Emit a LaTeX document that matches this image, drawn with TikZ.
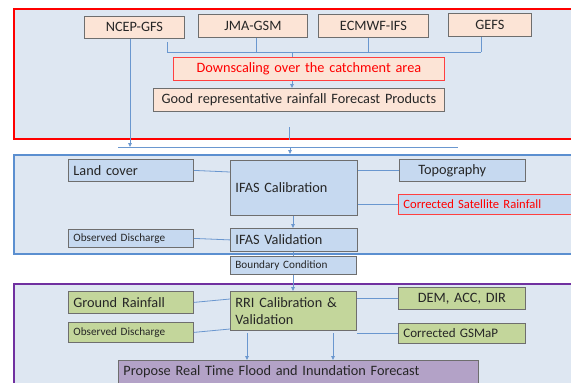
\documentclass[tikz,border=0pt]{standalone}
\usepackage{fontspec}
\setmainfont{Carlito}
\usetikzlibrary{arrows.meta,calc}
\definecolor{framefill}{HTML}{DEE7F2}
\definecolor{peach}{HTML}{FCE4D6}
\definecolor{bluebox}{HTML}{C6D9F0}
\definecolor{greenbox}{HTML}{C3D69B}
\definecolor{purplebox}{HTML}{B3A2C7}
\definecolor{redline}{HTML}{FF0000}
\definecolor{blueframe}{HTML}{5B8FD0}
\definecolor{purpleframe}{HTML}{7030A0}
\definecolor{conn}{HTML}{6A97CF}
\definecolor{boxline}{HTML}{6E6E6E}
\definecolor{txt}{HTML}{262626}
\newcommand{\bigf}{\fontsize{14.3}{17}\selectfont}
\newcommand{\smallf}{\fontsize{11.2}{13}\selectfont}
\tikzset{
  frame/.style={anchor=north west, line width=2pt, fill=framefill, inner sep=0pt},
  bx/.style={draw=boxline, line width=0.8pt, anchor=north west, inner xsep=5pt, inner ysep=0pt, text=txt, font=\bigf, align=left},
  sbx/.style={bx, font=\smallf},
  ln/.style={draw=conn, line width=0.8pt},
  arr/.style={ln, -{Triangle[length=4pt,width=3.5pt]}}
}
\begin{document}
\begin{tikzpicture}[x=1pt,y=-1pt]
\useasboundingbox (0,0) rectangle (571,383);
\clip (0,0) rectangle (571,383);
% frames
\node[frame, draw=redline, minimum width=570pt, minimum height=130pt] (redf) at (13,8) {};
\node[frame, draw=blueframe, minimum width=570pt, minimum height=99pt] (bluef) at (13,154) {};
\node[frame, draw=purpleframe, minimum width=570pt, minimum height=120pt] (purf) at (13,283) {};
% top boxes
\node[bx, fill=peach, minimum width=100pt, minimum height=22pt, text width=90pt, align=center] (ncep) at (84,16) {NCEP-GFS};
\node[bx, fill=peach, minimum width=109pt, minimum height=23pt, text width=99pt, align=center] (jma) at (198,14) {JMA-GSM};
\node[bx, fill=peach, minimum width=110pt, minimum height=23pt, text width=100pt, align=center] (ecmwf) at (318,14) {ECMWF-IFS};
\node[bx, fill=peach, minimum width=83pt, minimum height=23pt, text width=73pt, align=center] (gefs) at (448,13) {GEFS};
\node[bx, fill=peach, draw=redline!75, text=redline, minimum width=271pt, minimum height=23pt, text width=261pt, align=center] (down) at (173,57) {Downscaling over the catchment area};
\node[bx, fill=peach, minimum width=291pt, minimum height=23pt, text width=281pt, align=center] (good) at (153,88) {Good representative rainfall Forecast Products};
% bracket
\coordinate (b0) at (167,42);
\coordinate (b1) at (167,52);
\coordinate (b2) at (481,52);
\coordinate (bj) at (256,52);
\coordinate (be) at (368,52);
\coordinate (bd) at (292,52);
\draw[ln] (b0) -- (b1) -- (b2);
\draw[ln] (jma.south -| bj) -- (bj);
\draw[ln] (ecmwf.south -| be) -- (be);
\draw[ln] (gefs.south -| b2) -- (b2);
\draw[ln] (bd) -- (down.north -| bd);
\draw[arr] (down.south -| bd) -- (good.north -| bd);
% link to middle frame
\coordinate (h1) at (118,147);
\coordinate (h2) at (458,147);
\coordinate (g0) at (289,127);
\coordinate (n1) at (130,147);
\coordinate (m1) at (290,147);
\draw[ln] (h1) -- (h2);
\draw[ln] (g0) -- (g0 |- redf.south);
\draw[arr] (ncep.south -| n1) -- (n1);
\draw[arr] (m1) -- (m1 |- bluef.north);
% middle boxes
\node[bx, fill=bluebox, minimum width=125pt, minimum height=22pt, text width=115pt] (land) at (68,159) {Land cover};
\node[bx, fill=bluebox, minimum width=127pt, minimum height=55pt, text width=117pt] (ical) at (230,160) {IFAS Calibration};
\node[bx, fill=bluebox, minimum width=126pt, minimum height=22pt, inner xsep=19pt, text width=88pt] (topo) at (399,159) {Topography};
\node[bx, fill=bluebox, draw=redline!75, text=redline, font=\fontsize{12.6}{15}\selectfont, minimum width=180pt, minimum height=20pt, text width=170pt] (csat) at (398,194) {Corrected Satellite Rainfall};
\node[sbx, fill=bluebox, minimum width=125pt, minimum height=18pt, text width=115pt] (obs1) at (68,229) {Observed Discharge};
\node[bx, fill=bluebox, minimum width=127pt, minimum height=23pt, text width=117pt] (ival) at (230,228) {IFAS Validation};
\node[sbx, fill=bluebox, minimum width=126pt, minimum height=18pt, text width=116pt] (bound) at (230,256) {Boundary Condition};
\draw[ln] (land.east) -- (ical.west |- 0,172);
\draw[ln] (topo.west) -- (ical.east |- topo.west);
\draw[ln] (csat.west) -- (ical.east |- csat.west);
\draw[ln] (obs1.east) -- (ival.west);
\coordinate (cx) at (293,0);
\draw[arr] (ical.south -| cx) -- (ival.north -| cx);
\draw[ln] (ival.south -| cx) -- (bound.north -| cx);
% bottom boxes
\node[bx, fill=greenbox, minimum width=125pt, minimum height=22pt, text width=115pt] (ground) at (68,291) {Ground Rainfall};
\node[sbx, fill=greenbox, minimum width=125pt, minimum height=20pt, text width=115pt] (obs2) at (68,322) {Observed Discharge};
\node[bx, fill=greenbox, minimum width=126pt, minimum height=39pt, text width=116pt] (rri) at (230,291) {RRI Calibration \&\\Validation};
\node[bx, fill=greenbox, minimum width=127pt, minimum height=22pt, text width=117pt, align=center] (dem) at (398,287) {DEM, ACC, DIR};
\node[bx, fill=greenbox, font=\fontsize{13}{15}\selectfont, minimum width=127pt, minimum height=20pt, text width=117pt] (gsmap) at (398,323) {Corrected GSMaP};
\node[bx, fill=purplebox, minimum width=360pt, minimum height=30pt, text width=350pt, anchor=north west, text depth=10pt] (prop) at (118,360) {Propose Real Time Flood and Inundation Forecast};
\draw[arr] (bound.south -| cx) -- (rri.north -| cx);
\draw[ln] (ground.east) -- (rri.west |- 0,299);
\draw[ln] (obs2.east) -- (rri.west |- 0,329);
\draw[ln] (dem.west) -- (rri.east |- dem.west);
\draw[ln] (gsmap.west) -- (rri.east |- gsmap.west);
\coordinate (a1) at (247,333);
\coordinate (a2) at (333,333);
\draw[arr] (a1) -- (prop.north -| a1);
\draw[arr] (a2) -- (prop.north -| a2);
\end{tikzpicture}
\end{document}
